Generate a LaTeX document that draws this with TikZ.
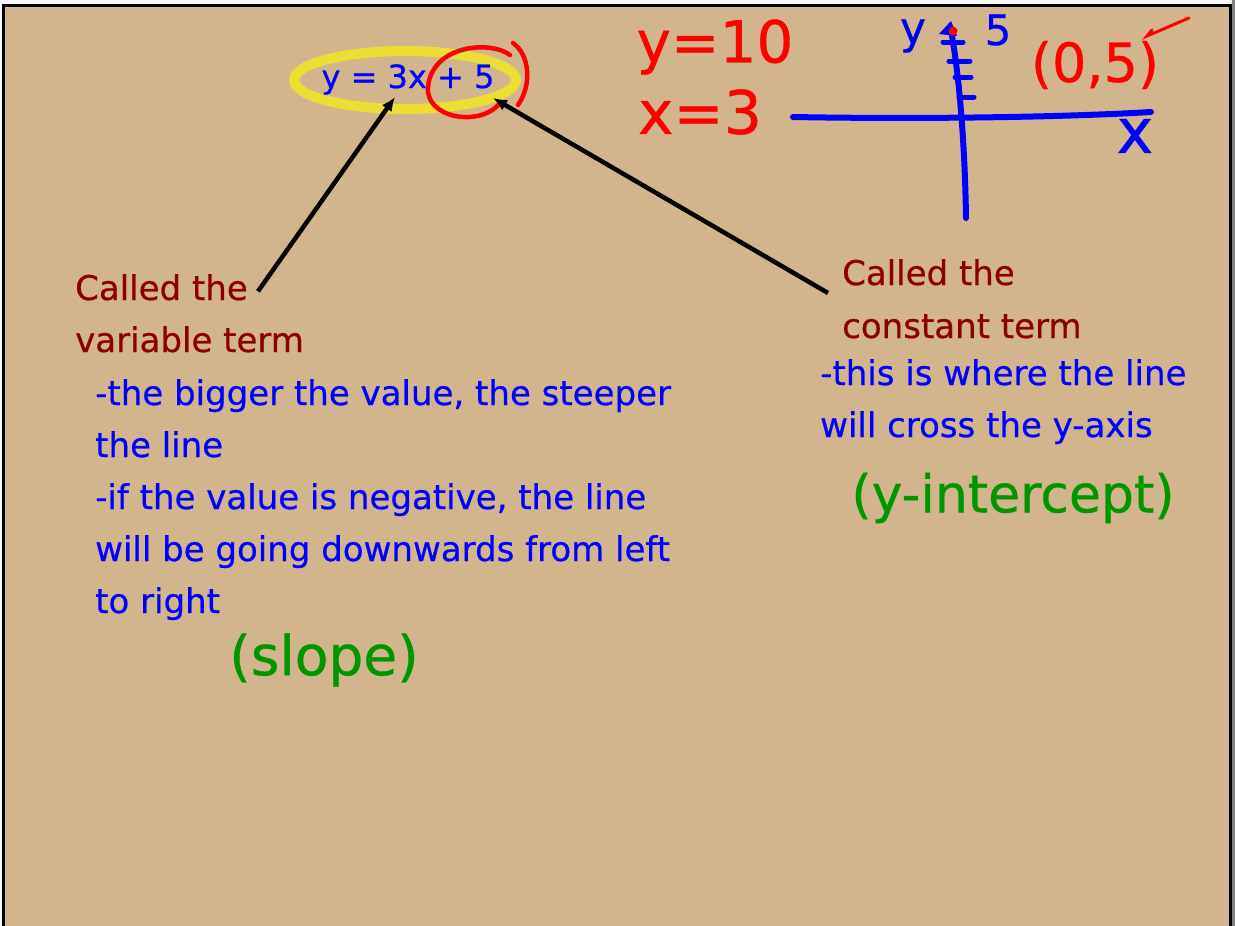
\documentclass[tikz,border=0pt]{standalone}
\usepackage{fontspec}
\setmainfont{DejaVu Sans}[FakeBold=0.6]
\usetikzlibrary{arrows.meta,positioning}
\definecolor{boardtan}{RGB}{210,181,141}
\definecolor{notered}{RGB}{140,0,0}
\definecolor{noteblue}{RGB}{0,0,255}
\definecolor{pengreen}{RGB}{0,150,0}
\definecolor{penred}{RGB}{255,0,0}
\definecolor{penyellow}{RGB}{236,222,52}
\definecolor{edgegrey}{RGB}{130,130,130}

\begin{document}
\begin{tikzpicture}[x=1pt, y=-1pt, every node/.style={inner sep=0pt},
  heading/.style={text=notered, font=\fontsize{34}{52}\selectfont, anchor=base west},
  notes/.style={text=noteblue, font=\fontsize{34}{52}\selectfont, align=left, anchor=north west},
  penmark/.style={font=\fontsize{#1}{#1}\selectfont},
  arrow/.style={-{Latex[length=14pt, width=12pt]}, line width=4.5pt},
  axis/.style={noteblue, line width=6pt, line cap=round},
  redpen/.style={penred, line width=4.5pt, line cap=round}]
\useasboundingbox (0,0) rectangle (1235,926);
% the board
\fill[white!94!gray] (0,0) rectangle (1235,926);
\fill[edgegrey] (1232,0) rectangle (1235,926);
\filldraw[fill=boardtan, draw=black, line width=3pt] (3.5,5.5) rectangle (1230.5,930);

% equation with the pen marks round it
\draw[penyellow, line width=10pt] (405,80) ellipse [x radius=111, y radius=29];
\node[text=noteblue, font=\fontsize{32}{32}\selectfont, anchor=base] (eq) at (408,88) {y = 3x + 5};
\draw[redpen] (510,55) .. controls (490,40) and (432,45) .. (428,87) .. controls (425,118) and (480,128) .. (500,103);
\draw[redpen] (513,43) .. controls (530,55) and (532,85) .. (518,105);
\coordinate (tipvar) at (395,97);
\coordinate (tipconst) at (493,98);

% left notes
\node[heading] (calledvar) at (75,300) {Called the};
\node[heading] (varterm) at (75,352) {variable term};
\node[notes] (varnotes) at (95,379) {-the bigger the value, the steeper\\the line\\-if the value is negative, the line\\will be going downwards from left\\to right};
\node[text=pengreen, penmark=55] (slope) at (324,660) {(slope)};

% right notes
\node[heading] (calledconst) at (842,285) {Called the};
\node[heading] (constterm) at (842,338) {constant term};
\node[notes] (constnotes) at (820,359) {-this is where the line\\will cross the y-axis};
\node[text=pengreen, penmark=52] (yint) at (1013,498) {(y-intercept)};

\draw[arrow] (calledvar.east) ++(10,4) -- (tipvar);
\draw[arrow] ([xshift=-14pt, yshift=-8pt]calledconst.base west) -- (tipconst);

% worked values
\node[text=penred, penmark=58] (yval) at (715,47) {y=10};
\node[text=penred, penmark=60] (xval) at (700,112) {x=3};

% sketch of the axes
\coordinate (ytop) at (951,30);
\coordinate (ybot) at (966,218);
\coordinate (xleft) at (793,117);
\coordinate (xright) at (1151,112);
\draw[axis] (xleft) .. controls (900,119) and (1050,118) .. (xright);
\draw[axis] (ytop) .. controls (960,80) and (965,150) .. (ybot);
\foreach \ty/\tl/\tr in {42/943/963, 61/949/970, 77/955/971, 97/959/974}
  \draw[axis, line width=5pt] (\tl,\ty) -- (\tr,\ty);
\fill[noteblue] (939,34) -- (951,21) -- (957,36) -- cycle;
\fill[penred] (953,31) circle [radius=4.5];
\node[text=noteblue, penmark=44] (ylabel) at (913,36) {y};
\node[text=noteblue, penmark=42] (fivelabel) at (998,30) {5};
\node[text=noteblue, penmark=62] (xlabel) at (1135,136) {x};
\node[text=penred, penmark=54] (point) at (1095,65) {(0,5)};
\draw[penred, line width=3pt, line cap=round] (1152,30) -- (1147,36) -- (1189,18);
\end{tikzpicture}
\end{document}
